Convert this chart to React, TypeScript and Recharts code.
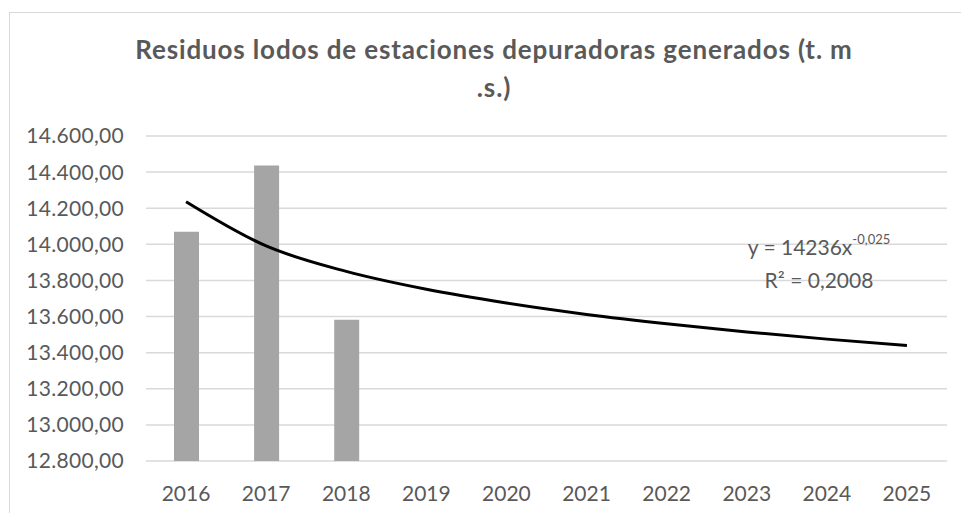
import React from 'react';
import { ComposedChart, Bar, Line, XAxis, YAxis, CartesianGrid } from 'recharts';

// categories and values
const years = ['2016', '2017', '2018', '2019', '2020', '2021', '2022', '2023', '2024', '2025'];
const sludge = [14070, 14437, 13582, null, null, null, null, null, null, null];
// potential trend line as drawn (y = 14236x^-0,025)
const trend = [14236, 13991, 13850, 13751, 13675, 13612, 13560, 13515, 13475, 13440];
const yTicks = [12800, 13000, 13200, 13400, 13600, 13800, 14000, 14200, 14400, 14600];

const data = years.map((year, i) => ({ year, sludge: sludge[i], trend: trend[i] }));

const FONT = 'Lato, "Open Sans", sans-serif';
const GREY = '#595959';

// 14600 -> "14.600,00"
const formatEs = (v: number) => {
  const [int, dec] = v.toFixed(2).split('.');
  return int.replace(/\B(?=(\d{3})+(?!\d))/g, '.') + ',' + dec;
};

export default function App() {
  return (
    <div style={{ position: 'absolute', left: 0, top: 0, width: 961, height: 513, overflow: 'hidden', background: '#fff', fontFamily: FONT }}>
      {/* chart frame, cut off on the right and bottom like the reference */}
      <div style={{ position: 'absolute', left: 9, top: 12, width: 1000, height: 600, border: '1.5px solid #d9d9d9', boxSizing: 'border-box' }} />

      <div style={{ position: 'absolute', left: 0, top: 30, width: 988, textAlign: 'center', color: GREY, fontWeight: 700, fontSize: 26, lineHeight: '38px', whiteSpace: 'pre', letterSpacing: 0.85 }}>
        {'Residuos lodos de estaciones depuradoras generados (t. m\n.s.)'}
      </div>

      <ComposedChart width={961} height={513} data={data} margin={{ top: 136, right: 14, bottom: 0, left: 0 }} style={{ position: 'absolute', left: 0, top: 0 }}>
        <CartesianGrid vertical={false} stroke="#d9d9d9" strokeWidth={1.5} />
        <XAxis dataKey="year" axisLine={false} tickLine={false} tickSize={0} tickMargin={25} height={52} interval={0}
          tick={{ fill: GREY, fontSize: 21, fontFamily: FONT }} />
        <YAxis domain={[12800, 14600]} ticks={yTicks} axisLine={false} tickLine={false} tickSize={0} tickMargin={22} width={146}
          tickFormatter={formatEs} tick={{ fill: GREY, fontSize: 21, fontFamily: FONT, letterSpacing: 0.3 }} allowDataOverflow />
        <Bar dataKey="sludge" fill="#a5a5a5" barSize={25} isAnimationActive={false} />
        <Line dataKey="trend" type="monotone" stroke="#000" strokeWidth={3} dot={false} activeDot={false} isAnimationActive={false} />
      </ComposedChart>

      <div style={{ position: 'absolute', left: 719, top: 230, width: 200, textAlign: 'center', color: GREY, fontSize: 21, lineHeight: '33px' }}>
        <div>y = 14236x<sup style={{ fontSize: 13, verticalAlign: 'top', position: 'relative', top: -7 }}>-0,025</sup></div>
        <div>R² = 0,2008</div>
      </div>
    </div>
  );
}
